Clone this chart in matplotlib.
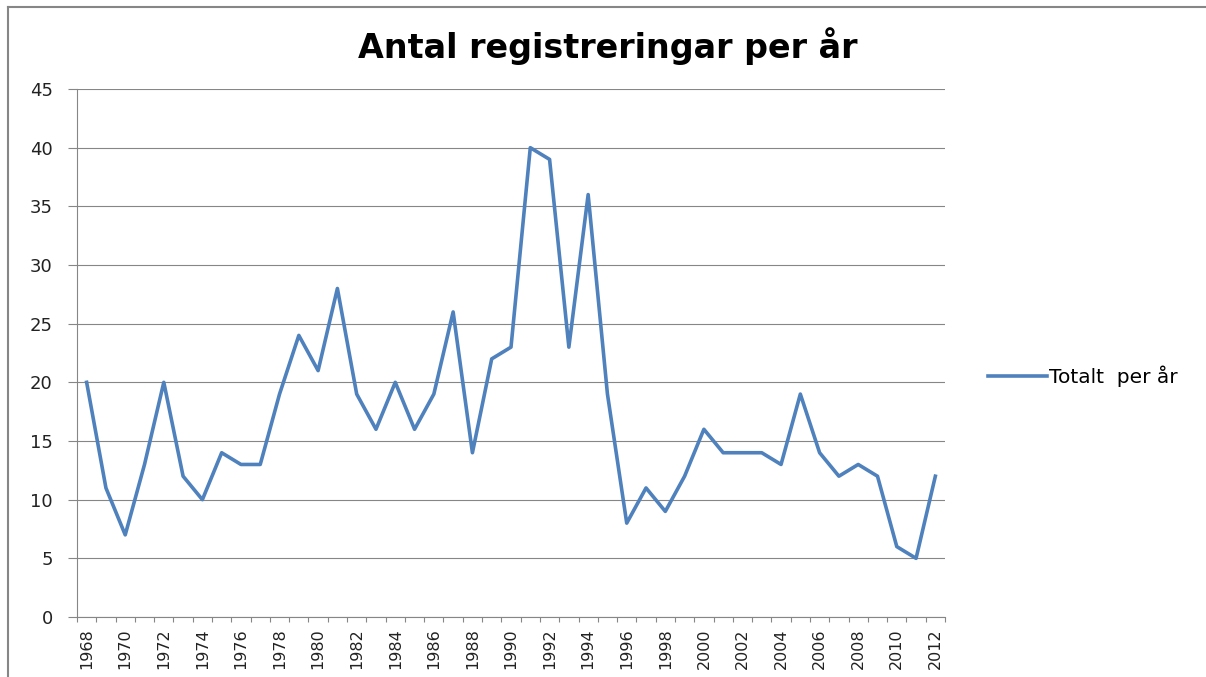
import matplotlib
matplotlib.use("Agg")
import matplotlib.pyplot as plt
from matplotlib.lines import Line2D
import numpy as np

years = list(range(1968, 2013))
totals = [20, 11, 7, 13, 20, 12, 10, 14, 13, 13,
          19, 24, 21, 28, 19, 16, 20, 16, 19, 26,
          14, 22, 23, 40, 39, 23, 36, 19, 8, 11,
          9, 12, 16, 14, 14, 14, 13, 19, 14, 12,
          13, 12, 6, 5, 12]
title = "Antal registreringar per år"
series_name = "Totalt  per år"

W, H = 1206, 677
fig = plt.figure(figsize=(W / 100, H / 100), dpi=100)
ax = fig.add_axes([77 / W, 1 - 617 / H, (945 - 77) / W, (617 - 89) / H])

grey = "#868686"
blue = "#4F81BD"
x = np.arange(len(years))
ax.plot(x, totals, color=blue, linewidth=2.6, solid_joinstyle="round",
        label=series_name, zorder=3)

ax.set_xlim(-0.5, len(years) - 0.5)
ax.set_ylim(0, 45)
ax.set_yticks(range(0, 46, 5))
ax.yaxis.grid(True, color=grey, linewidth=0.8)
ax.set_axisbelow(True)

# labels on every second category, tick marks on category boundaries
ax.set_xticks(x[::2])
ax.set_xticklabels([str(y) for y in years[::2]], rotation=90)
ax.set_xticks(np.arange(-0.5, len(years), 1), minor=True)
ax.tick_params(axis="x", which="major", length=0, pad=8, labelsize=11.5)
ax.tick_params(axis="x", which="minor", length=3.6, color=grey, width=0.8)
ax.tick_params(axis="y", length=6.5, color=grey, width=0.8, pad=11, labelsize=13)
ax.tick_params(labelcolor="#222222")

for s in ["top", "right"]:
    ax.spines[s].set_visible(False)
for s in ["left", "bottom"]:
    ax.spines[s].set_color(grey)
    ax.spines[s].set_linewidth(0.8)

fig.text(608 / W, 1 - 46 / H, title, ha="center", va="center",
         fontsize=24, fontweight="bold")

handle = Line2D([], [], color=blue, linewidth=2.6)
fig.legend([handle], [series_name], loc="center left",
           bbox_to_anchor=(970 / W, 1 - 376 / H), frameon=False,
           fontsize=14.5, handlelength=2.9, handletextpad=0.1)

# outer chart frame (partly cut off in the reference)
fig.add_artist(Line2D([8 / W, 8 / W], [0, 1 - 7 / H], color=grey, linewidth=1.5))
fig.add_artist(Line2D([8 / W, 1], [1 - 7 / H, 1 - 7 / H], color=grey, linewidth=1.5))

fig.savefig("out.png", dpi=100)
